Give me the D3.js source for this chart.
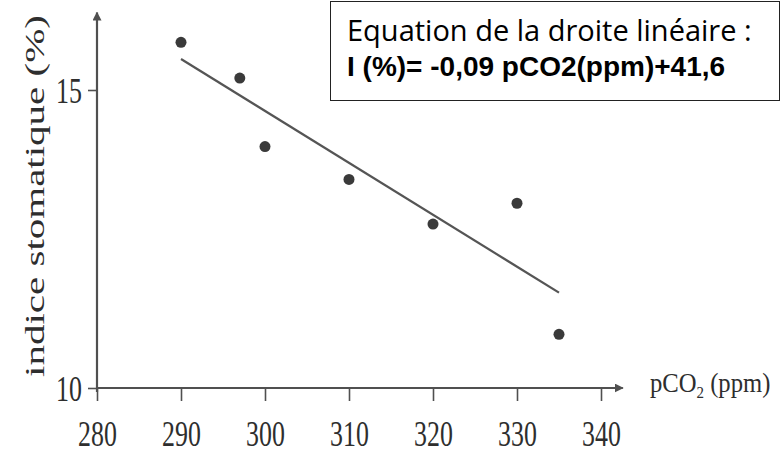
<!DOCTYPE html>
<html>
<head>
<meta charset="utf-8">
<script src="https://cdn.jsdelivr.net/npm/d3@7"></script>
<style>
  body { margin: 0; background: #fff; }
  svg { display: block; }
</style>
</head>
<body>
<svg id="chart" width="782" height="457"></svg>
<script>
(function() {
  var pco2, indice, lineX, lineY, xTicks, yTicks, svg, x, y, serif, axisColor, g, xAxis, yAxis, box;

  pco2 = [290, 297, 300, 310, 320, 330, 335];
  indice = [15.8, 15.2, 14.05, 13.5, 12.75, 13.1, 10.9];

  // droite de regression (extremites lues)
  lineX = [290, 335];
  lineY = [15.52, 11.6];

  xTicks = [280, 290, 300, 310, 320, 330, 340];
  yTicks = [10, 15];

  serif = '"Liberation Serif", "DejaVu Serif", serif';
  axisColor = '#505050';

  svg = d3.select('#chart');

  x = d3.scaleLinear().domain([280, 340]).range([97, 601]);
  y = d3.scaleLinear().domain([10, 15]).range([388, 90]);

  // axe des x
  xAxis = svg.append('g')
    .attr('transform', 'translate(0,' + y(10) + ')')
    .call(d3.axisBottom(x).tickValues(xTicks).tickSize(13).tickFormat(d3.format('d')));
  xAxis.select('.domain').remove();
  xAxis.selectAll('.tick line').attr('stroke', axisColor).attr('stroke-width', 1.6);
  xAxis.selectAll('.tick text')
    .attr('fill', '#2e2e2e')
    .attr('font-family', serif)
    .attr('font-size', 35)
    .attr('y', 0)
    .attr('dy', 0)
    .attr('transform', 'translate(0,58) scale(0.74,1)');

  // axe des y
  yAxis = svg.append('g')
    .attr('transform', 'translate(' + x(280) + ',0)')
    .call(d3.axisLeft(y).tickValues(yTicks).tickSize(9).tickFormat(d3.format('d')));
  yAxis.select('.domain').remove();
  yAxis.selectAll('.tick line').attr('stroke', axisColor).attr('stroke-width', 1.6);
  yAxis.selectAll('.tick text')
    .attr('fill', '#2e2e2e')
    .attr('font-family', serif)
    .attr('font-size', 36)
    .attr('text-anchor', 'end')
    .attr('x', 0)
    .attr('dy', 0)
    .attr('transform', 'translate(-15,12) scale(0.72,1)');

  // fleches
  svg.append('defs').append('marker')
    .attr('id', 'arrow')
    .attr('viewBox', '0 0 10 10')
    .attr('refX', 9)
    .attr('refY', 5)
    .attr('markerWidth', 9)
    .attr('markerHeight', 9)
    .attr('markerUnits', 'userSpaceOnUse')
    .attr('orient', 'auto')
    .append('path')
    .attr('d', 'M0,0 L10,5 L0,10 Z')
    .attr('fill', axisColor);

  svg.append('line')
    .attr('x1', x(280)).attr('y1', y(10))
    .attr('x2', x(342.6)).attr('y2', y(10))
    .attr('stroke', axisColor).attr('stroke-width', 2.2)
    .attr('marker-end', 'url(#arrow)');

  svg.append('line')
    .attr('x1', x(280)).attr('y1', y(10) + 4)
    .attr('x2', x(280)).attr('y2', y(16.3))
    .attr('stroke', axisColor).attr('stroke-width', 2.2)
    .attr('marker-end', 'url(#arrow)');

  // titres des axes
  svg.append('text')
    .attr('font-family', serif)
    .attr('font-size', 41)
    .attr('fill', '#2e2e2e')
    .attr('text-anchor', 'middle')
    .attr('transform', 'translate(44,196) rotate(-90) scale(1,0.68)')
    .text('indice stomatique (%)');

  g = svg.append('text')
    .attr('font-family', serif)
    .attr('font-size', 28)
    .attr('fill', '#2e2e2e')
    .attr('transform', 'translate(650,392) scale(0.88,1)');
  g.append('tspan').text('pCO');
  g.append('tspan').attr('font-size', 17).attr('dy', 6).text('2');
  g.append('tspan').attr('dy', -6).text(' (ppm)');

  // droite
  svg.append('line')
    .attr('x1', x(lineX[0])).attr('y1', y(lineY[0]))
    .attr('x2', x(lineX[1])).attr('y2', y(lineY[1]))
    .attr('stroke', '#555')
    .attr('stroke-width', 2.2);

  // points
  svg.selectAll('circle.pt')
    .data(pco2)
    .enter()
    .append('circle')
    .attr('class', 'pt')
    .attr('cx', function(d) { return x(d); })
    .attr('cy', function(d, i) { return y(indice[i]); })
    .attr('r', 5.5)
    .attr('fill', '#3a3a3a');

  // cadre de l'equation
  box = svg.append('g');
  box.append('rect')
    .attr('x', 330.5).attr('y', 1.5)
    .attr('width', 449).attr('height', 99)
    .attr('fill', '#fff')
    .attr('stroke', '#222')
    .attr('stroke-width', 1);
  box.append('text')
    .attr('x', 347).attr('y', 41)
    .attr('font-family', '"Open Sans", "Noto Sans", sans-serif')
    .attr('font-size', 29)
    .attr('fill', '#000')
    .text('Equation de la droite linéaire :');
  box.append('text')
    .attr('x', 347).attr('y', 76)
    .attr('font-family', '"Liberation Sans", Arial, sans-serif')
    .attr('font-weight', 'bold')
    .attr('font-size', 28)
    .attr('fill', '#000')
    .text('I (%)= -0,09 pCO2(ppm)+41,6');
}).call(this);
</script>
</body>
</html>
